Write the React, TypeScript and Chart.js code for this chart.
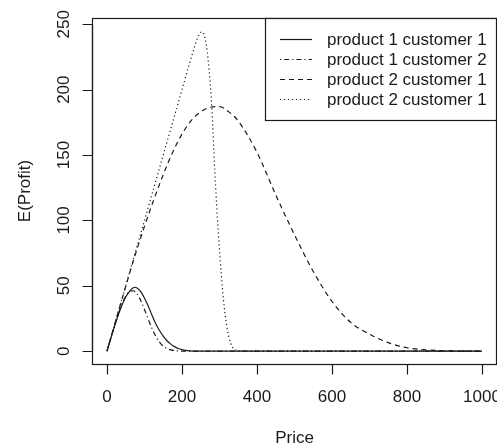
import React, { useEffect, useRef } from "react";
import { Chart, registerables } from "chart.js";

Chart.register(...registerables);

// ---- data ----
const seriesLabels = [
  "product 1 customer 1",
  "product 1 customer 2",
  "product 2 customer 1",
  "product 2 customer 1",
];

const p1c1Price = [0, 10, 20, 30, 40, 50, 60, 70, 75, 80, 90, 100, 110, 120, 130, 140, 150, 160, 170, 180, 190, 200, 210, 220, 240, 1000];
const p1c1Profit = [0, 9.7, 19, 27.7, 35.3, 41.5, 45.8, 48.5, 48.9, 48.3, 45.5, 40.5, 34.5, 27.5, 21, 15.8, 11.5, 8, 5.4, 3.5, 2.1, 1.2, 0.6, 0.3, 0, 0];

const p1c2Price = [0, 10, 20, 30, 40, 50, 60, 70, 80, 90, 100, 110, 120, 130, 140, 150, 160, 170, 180, 190, 200, 1000];
const p1c2Profit = [0, 9.85, 19.4, 28.3, 36.1, 42, 45.6, 46.2, 43.8, 38.7, 31.9, 24.4, 17.4, 11.4, 7, 3.9, 2, 1, 0.4, 0.15, 0, 0];

const p2c1Price = [0, 25, 50, 75, 100, 125, 150, 175, 200, 225, 250, 275, 300, 325, 350, 400, 450, 500, 550, 600, 650, 700, 750, 800, 850, 900, 950, 1000];
const p2c1Profit = [0, 25, 49.7, 73.5, 95.5, 116, 135, 152, 166, 176.5, 183, 186.5, 187, 183, 176, 152, 119.5, 89, 61, 38, 22, 13, 6.5, 2.6, 1, 0.3, 0.1, 0];

const p2c1bPrice = [0, 100, 200, 220, 230, 240, 250, 255, 260, 265, 270, 275, 280, 285, 290, 295, 300, 305, 310, 315, 320, 325, 330, 335, 340, 350, 360, 1000];
const p2c1bProfit = [0, 100, 200, 220, 229.7, 238.5, 243.9, 244.2, 241, 234, 222, 205.5, 184, 152, 124, 99, 78, 58, 41, 28, 18, 11, 6, 3, 1.5, 0.3, 0, 0];

const xTicks = [0, 200, 400, 600, 800, 1000];
const yTicks = [0, 50, 100, 150, 200, 250];
const xTitle = "Price";
const yTitle = "E(Profit)";

const dashes: number[][] = [[], [1.2, 3, 5, 3], [5, 4], [1.2, 2.8]];

const FONT = '17px "Liberation Sans", Arial, Helvetica, sans-serif';
const INK = "#1a1a1a";

const toPoints = (xs: number[], ys: number[]) => xs.map((x, i) => ({ x, y: ys[i] }));

const axesPlugin = {
  id: "rAxes",
  afterDraw(chart: any) {
    const { ctx, chartArea: ca, scales } = chart;
    const xs = scales.x;
    const ys = scales.y;
    ctx.save();
    ctx.strokeStyle = INK;
    ctx.fillStyle = INK;
    ctx.lineWidth = 1.2;
    ctx.setLineDash([]);

    // box
    ctx.strokeRect(ca.left + 0.5, ca.top + 0.5, ca.right - ca.left - 1, ca.bottom - ca.top);

    // x axis
    const xb = Math.round(ca.bottom) + 0.5;
    ctx.beginPath();
    ctx.moveTo(xs.getPixelForValue(xTicks[0]), xb);
    ctx.lineTo(xs.getPixelForValue(xTicks[xTicks.length - 1]), xb);
    xTicks.forEach((t) => {
      const px = Math.round(xs.getPixelForValue(t)) + 0.5;
      ctx.moveTo(px, xb);
      ctx.lineTo(px, xb + 10);
    });
    ctx.stroke();
    ctx.font = FONT;
    ctx.textAlign = "center";
    ctx.textBaseline = "alphabetic";
    xTicks.forEach((t) => {
      ctx.fillText(String(t), xs.getPixelForValue(t), 401.5);
    });
    ctx.fillText(xTitle, (ca.left + ca.right) / 2, 443);

    // y axis
    const yl = Math.round(ca.left) + 0.5;
    ctx.beginPath();
    ctx.moveTo(yl, ys.getPixelForValue(yTicks[0]));
    ctx.lineTo(yl, ys.getPixelForValue(yTicks[yTicks.length - 1]));
    yTicks.forEach((t) => {
      const py = Math.round(ys.getPixelForValue(t)) + 0.5;
      ctx.moveTo(yl, py);
      ctx.lineTo(yl - 10, py);
    });
    ctx.stroke();
    yTicks.forEach((t) => {
      ctx.save();
      ctx.translate(68.5, ys.getPixelForValue(t));
      ctx.rotate(-Math.PI / 2);
      ctx.fillText(String(t), 0, 0);
      ctx.restore();
    });
    ctx.save();
    ctx.translate(29.5, (ca.top + ca.bottom) / 2);
    ctx.rotate(-Math.PI / 2);
    ctx.fillText(yTitle, 0, 0);
    ctx.restore();

    // legend
    const lx0 = 265.5;
    const ly0 = ca.top + 0.5;
    const lx1 = ca.right - 0.5;
    const ly1 = 120.5;
    ctx.fillStyle = "#fff";
    ctx.fillRect(lx0, ly0, lx1 - lx0, ly1 - ly0);
    ctx.strokeStyle = INK;
    ctx.strokeRect(lx0, ly0, lx1 - lx0, ly1 - ly0);
    ctx.fillStyle = INK;
    ctx.textAlign = "left";
    ctx.textBaseline = "middle";
    chart.data.datasets.forEach((ds: any, i: number) => {
      const y = 39.5 + i * 20;
      ctx.beginPath();
      ctx.setLineDash(ds.borderDash || []);
      ctx.lineWidth = 1.2;
      ctx.moveTo(280, y);
      ctx.lineTo(312, y);
      ctx.stroke();
      ctx.setLineDash([]);
      ctx.fillText(ds.label, 327, y + 1);
    });
    ctx.restore();
  },
};

export default function App() {
  const ref = useRef<HTMLCanvasElement>(null);
  useEffect(() => {
    const canvas = ref.current;
    if (!canvas) return;
    const sets = [
      toPoints(p1c1Price, p1c1Profit),
      toPoints(p1c2Price, p1c2Profit),
      toPoints(p2c1Price, p2c1Profit),
      toPoints(p2c1bPrice, p2c1bProfit),
    ];
    const chart = new Chart(canvas, {
      type: "line",
      data: {
        datasets: sets.map((d, i) => ({
          label: seriesLabels[i],
          data: d,
          borderColor: INK,
          backgroundColor: INK,
          borderWidth: 1.2,
          borderDash: dashes[i],
          pointRadius: 0,
          fill: false,
          cubicInterpolationMode: "monotone" as const,
        })),
      },
      options: {
        responsive: false,
        animation: false,
        devicePixelRatio: 1,
        layout: { padding: { left: 92, top: 18, right: 0, bottom: 82 } },
        scales: {
          x: { type: "linear", min: -40, max: 1040, display: false },
          y: { type: "linear", min: -9.8, max: 254.8, display: false },
        },
        plugins: { legend: { display: false }, tooltip: { enabled: false } },
      },
      plugins: [axesPlugin],
    });
    return () => chart.destroy();
  }, []);
  return (
    <div style={{ position: "absolute", left: 0, top: 0, width: 497, height: 446, background: "#fff" }}>
      <canvas ref={ref} width={497} height={446} style={{ display: "block" }} />
    </div>
  );
}
